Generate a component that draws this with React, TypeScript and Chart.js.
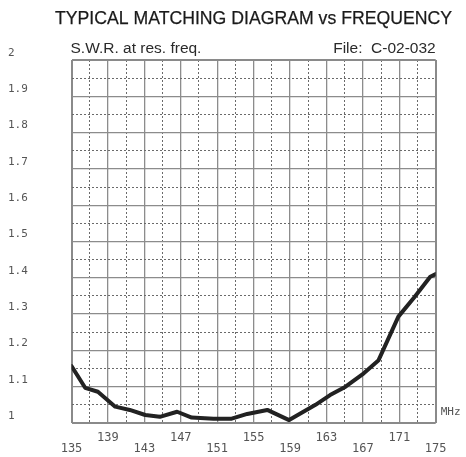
import React, { useEffect, useRef } from 'react';
import { Chart, registerables } from 'chart.js';

Chart.register(...registerables);

// ---- data ----
const freqMHz = [135, 136.5, 137.9, 139.8, 141.4, 143.1, 144.7, 146.6, 148.2, 150.6, 152.6, 154.3, 156.5, 158.9, 161.8, 163.4, 165.1, 167.1, 168.7, 170.9, 172.7, 174.4, 175];
const swr = [1.157, 1.097, 1.086, 1.045, 1.036, 1.022, 1.017, 1.031, 1.015, 1.012, 1.012, 1.025, 1.036, 1.008, 1.05, 1.077, 1.1, 1.137, 1.172, 1.293, 1.348, 1.403, 1.41];
const xTickLabels = ['135', '139', '143', '147', '151', '155', '159', '163', '167', '171', '175'];
const yTickLabels = ['1', '1.1', '1.2', '1.3', '1.4', '1.5', '1.6', '1.7', '1.8', '1.9', '2'];
const titleText = 'TYPICAL MATCHING DIAGRAM vs FREQUENCY';
const subtitleLeft = 'S.W.R. at res. freq.';
const subtitleRight = 'File:  C-02-032';
const unitLabel = 'MHz';

const X_MIN = 135, X_MAX = 175, X_STEP = 2;
const Y_MIN = 1, Y_MAX = 2, Y_STEP = 0.05;

const textPlugin = {
  id: 'textPlugin',
  afterDraw(chart: any) {
    const { ctx, chartArea } = chart;
    ctx.save();
    // title
    ctx.font = '19px "Liberation Sans"';
    ctx.fillStyle = '#1a1a1a';
    ctx.strokeStyle = '#1a1a1a';
    ctx.lineWidth = 0.25;
    ctx.textBaseline = 'alphabetic';
    ctx.textAlign = 'left';
    const w = ctx.measureText(titleText).width;
    ctx.save();
    ctx.translate(55, 24);
    ctx.scale(397 / w, 1);
    ctx.fillText(titleText, 0, 0);
    ctx.strokeText(titleText, 0, 0);
    ctx.restore();
    // subtitles
    ctx.font = '15.5px "Liberation Sans"';
    ctx.fillStyle = '#2a2a2a';
    ctx.textAlign = 'left';
    ctx.fillText(subtitleLeft, chartArea.left - 1, 53);
    ctx.textAlign = 'right';
    ctx.fillText(subtitleRight, chartArea.right, 53);
    // unit
    ctx.font = '11px "DejaVu Sans Mono"';
    ctx.fillStyle = '#555';
    ctx.textAlign = 'left';
    ctx.textBaseline = 'middle';
    ctx.fillText(unitLabel, chartArea.right + 5, chartArea.bottom - 11);
    ctx.restore();
  },
};

const isMajorX = (v: number) => Math.round(v - X_MIN) % 4 === 0;
const isMajorY = (v: number) => Math.round(v * 100) % 10 === 0;

export default function App() {
  const ref = useRef<HTMLCanvasElement | null>(null);
  useEffect(() => {
    if (!ref.current) return;
    const chart = new Chart(ref.current, {
      type: 'line',
      data: {
        datasets: [
          {
            data: freqMHz.map((f, i) => ({ x: f, y: swr[i] })),
            borderColor: '#222',
            borderWidth: 4,
            pointRadius: 0,
            tension: 0,
            fill: false,
            borderCapStyle: 'round',
            borderJoinStyle: 'round',
          },
        ],
      },
      options: {
        responsive: false,
        animation: false,
        layout: { padding: { left: 8, top: 60, right: 30.3, bottom: 0 } },
        plugins: {
          legend: { display: false },
          tooltip: { enabled: false },
          title: { display: false },
        },
        scales: {
          x: {
            type: 'linear',
            min: X_MIN,
            max: X_MAX,
            afterFit: (s: any) => { s.height = 34; },
            ticks: {
              stepSize: X_STEP,
              autoSkip: false,
              maxRotation: 0,
              minRotation: 0,
              padding: 9.5,
              color: '#555',
              font: { family: '"DejaVu Sans Mono"', size: 12, lineHeight: 0.92 },
              callback: (v: any) => {
                const i = xTickLabels.indexOf(String(Math.round(Number(v) * 100) / 100));
                if (i < 0) return '';
                return i % 2 === 0 ? ['', xTickLabels[i]] : [xTickLabels[i]];
              },
            },
            grid: {
              drawTicks: false,
              color: (c: any) => {
                const v = c.tick ? c.tick.value : 0;
                if (v === X_MIN || v === X_MAX) return '#8a8a8a';
                return isMajorX(v) ? '#8c8c8c' : '#6a6a6a';
              },
              lineWidth: (c: any) => {
                const v = c.tick ? c.tick.value : 0;
                if (v === X_MIN || v === X_MAX) return 2;
                return isMajorX(v) ? 1.3 : 1;
              },
            },
            border: {
              display: false,
              dash: (c: any) => {
                const v = c.tick ? c.tick.value : X_MIN;
                return isMajorX(v) ? [] : [2, 2];
              },
            },
          },
          y: {
            type: 'linear',
            min: Y_MIN,
            max: Y_MAX,
            afterFit: (s: any) => { s.width = 63.5; },
            ticks: {
              stepSize: Y_STEP,
              autoSkip: false,
              crossAlign: 'far',
              labelOffset: -7,
              padding: 0,
              color: '#555',
              font: { family: '"DejaVu Sans Mono"', size: 11 },
              callback: (v: any) => {
                const n = Number(v);
                if (!isMajorY(n)) return '';
                const i = Math.round((n - Y_MIN) * 10);
                return yTickLabels[i] ?? '';
              },
            },
            grid: {
              drawTicks: false,
              color: (c: any) => {
                const v = c.tick ? c.tick.value : 1;
                if (Math.abs(v - Y_MIN) < 1e-6 || Math.abs(v - Y_MAX) < 1e-6) return '#8a8a8a';
                return isMajorY(v) ? '#8c8c8c' : '#6a6a6a';
              },
              lineWidth: (c: any) => {
                const v = c.tick ? c.tick.value : 1;
                if (Math.abs(v - Y_MIN) < 1e-6 || Math.abs(v - Y_MAX) < 1e-6) return 2;
                return isMajorY(v) ? 1.3 : 1;
              },
            },
            border: {
              display: false,
              dash: (c: any) => {
                const v = c.tick ? c.tick.value : Y_MIN;
                return isMajorY(v) ? [] : [2, 2];
              },
            },
          },
        },
      } as any,
      plugins: [textPlugin],
    });
    return () => chart.destroy();
  }, []);

  return (
    <div style={{ position: 'absolute', left: 0, top: 0, width: 466, height: 457, background: '#fff' }}>
      <canvas ref={ref} width={466} height={457} style={{ display: 'block' }} />
    </div>
  );
}
